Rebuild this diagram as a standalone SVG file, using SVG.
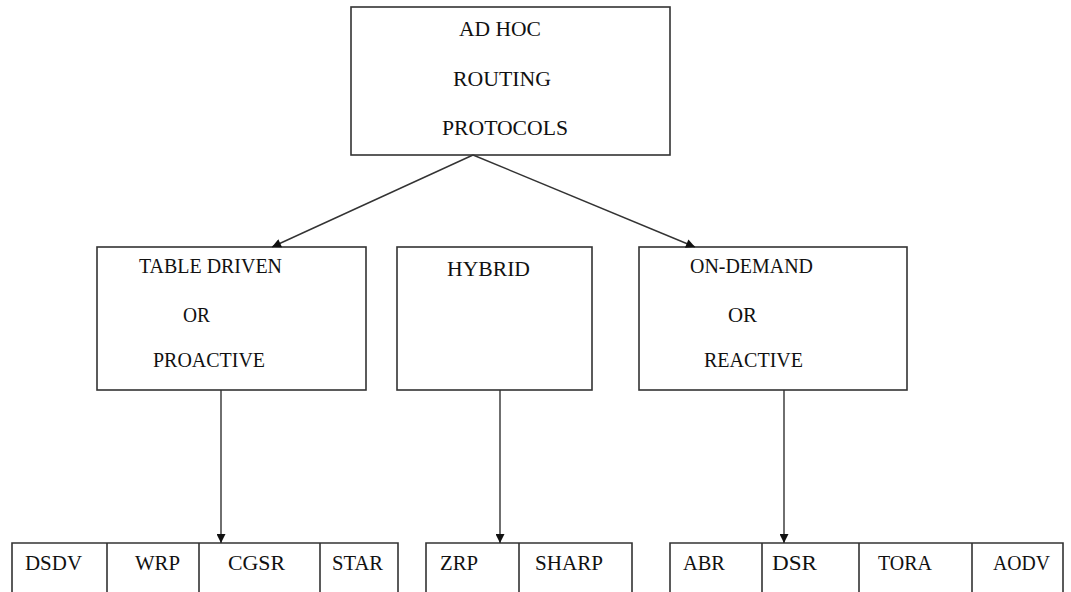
<svg xmlns="http://www.w3.org/2000/svg" width="1071" height="592" viewBox="0 0 1071 592">
<style>
.box{fill:#fff;stroke:#333;stroke-width:1.6}
.t{font-family:"Liberation Serif","Times New Roman",serif;font-size:22px;fill:#111}
.c{stroke:#333;stroke-width:1.4;fill:none}
</style>
<defs>
<marker id="ah" viewBox="0 0 10 10" refX="10" refY="5" markerWidth="11" markerHeight="9" markerUnits="userSpaceOnUse" orient="auto">
<path d="M0,0 L10,5 L0,10 z" fill="#111"/>
</marker>
</defs>
<rect width="1071" height="592" fill="#fff"/>
<g id="root">
<rect class="box" x="351" y="7" width="319" height="148"/>
<text class="t" x="459" y="36" textLength="82" lengthAdjust="spacingAndGlyphs">AD HOC</text>
<text class="t" x="453" y="86" textLength="98" lengthAdjust="spacingAndGlyphs">ROUTING</text>
<text class="t" x="442" y="135" textLength="126" lengthAdjust="spacingAndGlyphs">PROTOCOLS</text>
</g>
<g id="proactive">
<rect class="box" x="97" y="247" width="269" height="143"/>
<text class="t" x="139" y="273" textLength="143" lengthAdjust="spacingAndGlyphs">TABLE DRIVEN</text>
<text class="t" x="183" y="322" textLength="27" lengthAdjust="spacingAndGlyphs">OR</text>
<text class="t" x="153" y="367" textLength="112" lengthAdjust="spacingAndGlyphs">PROACTIVE</text>
</g>
<g id="hybrid">
<rect class="box" x="397" y="247" width="195" height="143"/>
<text class="t" x="447" y="276" textLength="83" lengthAdjust="spacingAndGlyphs">HYBRID</text>
</g>
<g id="reactive">
<rect class="box" x="639" y="247" width="268" height="143"/>
<text class="t" x="690" y="273" textLength="123" lengthAdjust="spacingAndGlyphs">ON-DEMAND</text>
<text class="t" x="728" y="322" textLength="29" lengthAdjust="spacingAndGlyphs">OR</text>
<text class="t" x="704" y="367" textLength="99" lengthAdjust="spacingAndGlyphs">REACTIVE</text>
</g>
<g id="proactive-list">
<path class="box" d="M12,600 V543 H398 V600 M107,543 V600 M199,543 V600 M320,543 V600"/>
<text class="t" x="25" y="570" textLength="57" lengthAdjust="spacingAndGlyphs">DSDV</text>
<text class="t" x="135" y="570" textLength="45" lengthAdjust="spacingAndGlyphs">WRP</text>
<text class="t" x="228" y="570" textLength="57" lengthAdjust="spacingAndGlyphs">CGSR</text>
<text class="t" x="332" y="570" textLength="51" lengthAdjust="spacingAndGlyphs">STAR</text>
</g>
<g id="hybrid-list">
<path class="box" d="M426,600 V543 H632 V600 M519,543 V600"/>
<text class="t" x="440" y="570" textLength="38" lengthAdjust="spacingAndGlyphs">ZRP</text>
<text class="t" x="535" y="570" textLength="68" lengthAdjust="spacingAndGlyphs">SHARP</text>
</g>
<g id="reactive-list">
<path class="box" d="M670,600 V543 H1063 V600 M762,543 V600 M859,543 V600 M972,543 V600"/>
<text class="t" x="683" y="570" textLength="42" lengthAdjust="spacingAndGlyphs">ABR</text>
<text class="t" x="772" y="570" textLength="45" lengthAdjust="spacingAndGlyphs">DSR</text>
<text class="t" x="878" y="570" textLength="54" lengthAdjust="spacingAndGlyphs">TORA</text>
<text class="t" x="993" y="570" textLength="57" lengthAdjust="spacingAndGlyphs">AODV</text>
</g>
<g id="connectors">
<line class="c" x1="473" y1="155" x2="272" y2="247" marker-end="url(#ah)"/>
<line class="c" x1="473" y1="155" x2="695" y2="247" marker-end="url(#ah)"/>
<line class="c" x1="221" y1="390" x2="221" y2="543" marker-end="url(#ah)"/>
<line class="c" x1="500" y1="390" x2="500" y2="543" marker-end="url(#ah)"/>
<line class="c" x1="784" y1="390" x2="784" y2="543" marker-end="url(#ah)"/>
</g>
</svg>
